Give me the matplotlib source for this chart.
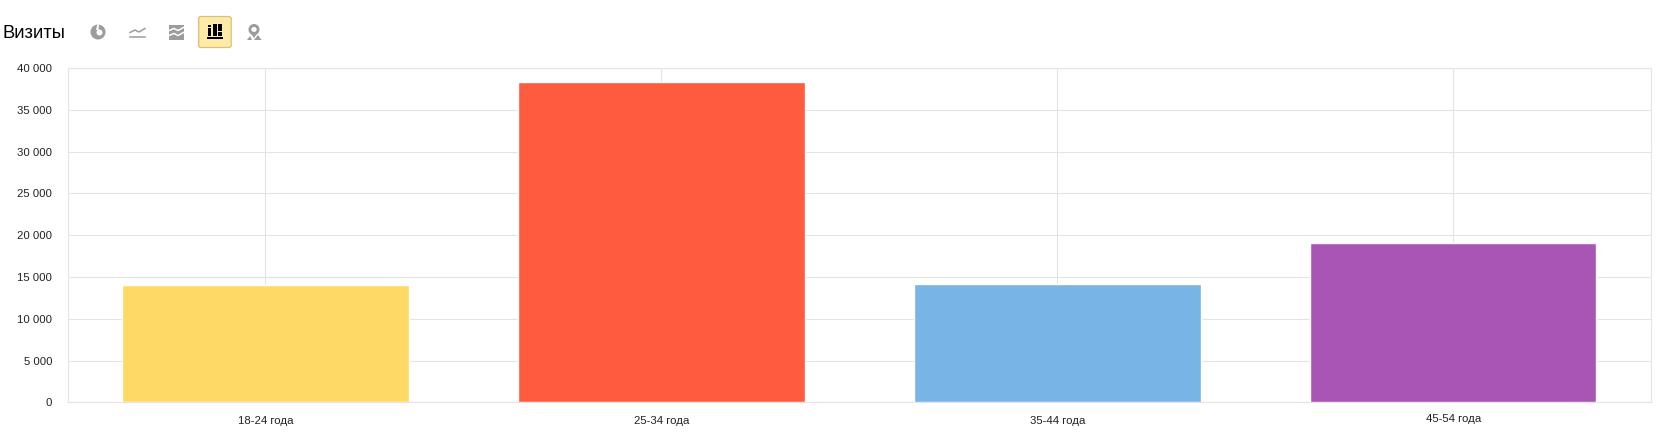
import matplotlib
matplotlib.use("Agg")
import matplotlib.pyplot as plt
from matplotlib.patches import Rectangle, FancyBboxPatch, Circle, Wedge, Polygon
from matplotlib.lines import Line2D
from matplotlib.transforms import ScaledTranslation

categories = ["18-24 года", "25-34 года", "35-44 года", "45-54 года"]
visits = [14050, 38300, 14100, 19050]
bar_colors = ["#ffd966", "#ff5b3f", "#78b4e6", "#a855b5"]
y_ticks = [0, 5000, 10000, 15000, 20000, 25000, 30000, 35000, 40000]
y_labels = ["0", "5 000", "10 000", "15 000", "20 000", "25 000", "30 000", "35 000", "40 000"]

plt.rcParams["font.family"] = ["Liberation Sans", "DejaVu Sans"]
W, H = 1660, 439
fig = plt.figure(figsize=(W / 100, H / 100), dpi=100, facecolor="white")
ax = fig.add_axes([67.5 / W, 1 - 403.3 / H, (1651.3 - 67.5) / W, (403.3 - 69.0) / H])
GRID = "#e4e4e4"
ax.set_xlim(-0.5, 3.5)
ax.set_ylim(0, 40000)
ax.set_axisbelow(True)
ax.grid(True, color=GRID, lw=0.75)
ax.bar(range(4), visits, width=0.723, color=bar_colors, edgecolor="white", linewidth=1.0, zorder=3)
for s in ax.spines.values():
    s.set_color(GRID)
    s.set_linewidth(0.8)
ax.set_xticks(range(4), categories)
ax.set_yticks(y_ticks, y_labels)
ax.tick_params(length=0, labelsize=8.2, labelcolor="#222222")
ax.tick_params(axis="x", pad=8.8)
ax.tick_params(axis="y", pad=11)
lab = ax.get_xticklabels()[3]
lab.set_transform(lab.get_transform() + ScaledTranslation(0, 2 / 100, fig.dpi_scale_trans))
for lab in ax.get_yticklabels():
    lab.set_transform(lab.get_transform() + ScaledTranslation(0, 1 / 100, fig.dpi_scale_trans))

fig.text(3 / W, 1 - 34 / H, "Визиты", fontsize=13.2, color="black", va="center", ha="left")

# toolbar icons, in pixel coordinates of the page (y downward)
ic = fig.add_axes([0, 0, 1, 1], facecolor="none")
ic.set_xlim(0, W)
ic.set_ylim(H, 0)
ic.axis("off")
G = "#9c9c9c"
# pie
ic.add_patch(Circle((98, 33), 7.5, fc=G, lw=0))
ic.add_patch(Circle((99.5, 33.5), 3, fc="white", lw=0))
ic.add_patch(Polygon([(97.5, 25), (99, 25), (98.5, 31), (96, 31)], fc="white", lw=0))
# line chart
ic.add_line(Line2D([130, 135, 139, 145], [33.5, 31, 33, 29.5], color=G, lw=1.1))
ic.add_line(Line2D([130, 145], [37.5, 37.5], color=G, lw=1.1))
# stacked area
ic.add_patch(Rectangle((169, 25.5), 14.5, 15, fc=G, lw=0))
ic.add_line(Line2D([169, 174, 178, 183.5], [31.5, 29.5, 31.5, 28.5], color="white", lw=1.1))
ic.add_line(Line2D([169, 174, 178, 183.5], [36.5, 34.5, 36.5, 33.5], color="white", lw=1.1))
# selected button
ic.add_patch(FancyBboxPatch((198.7, 17.5), 32.5, 31, boxstyle="round,pad=0,rounding_size=2",
                            fc="#ffeba6", ec="#d6c07c", lw=0.9))
for x0, y0, w, h in [(208, 26, 3, 2), (208, 29, 3, 7.5), (212.5, 25, 4, 11.5),
                     (218, 25, 4, 7), (218, 33, 4, 3.5), (207, 38, 15.5, 2)]:
    ic.add_patch(Rectangle((x0, y0), w, h, fc="black", lw=0))
# map pin
ic.add_patch(Wedge((254, 30.5), 5.5, 0, 360, width=3, fc=G, lw=0))
ic.add_patch(Polygon([(249.5, 32.5), (258.5, 32.5), (254, 39)], fc=G, lw=0))
ic.add_patch(Circle((254, 30.5), 2.4, fc="white", lw=0))
ic.add_patch(Polygon([(247, 41), (250, 37), (252, 41)], fc=G, lw=0))
ic.add_patch(Polygon([(254, 41), (258, 36), (261.5, 41)], fc=G, lw=0))

fig.savefig("out.png", dpi=100)
